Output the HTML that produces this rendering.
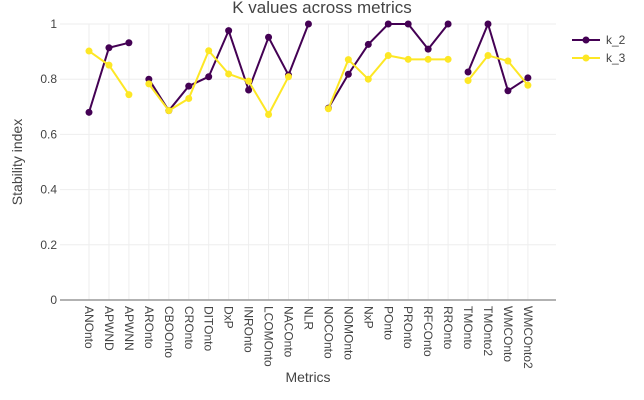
<!DOCTYPE html>
<html><head><meta charset="utf-8"><style>
body{margin:0;background:#fff;}
svg{font-family:"Liberation Sans",sans-serif;display:block;}
</style></head><body>
<svg id="chart" width="644" height="400">
<text x="322" y="13" text-anchor="middle" font-size="17" fill="#444">K values across metrics</text>
<g id="grid"></g><g id="axes"></g><g id="series"></g>
<text transform="translate(22,162) rotate(-90)" text-anchor="middle" font-size="14" fill="#444">Stability index</text>
<text x="308" y="382" text-anchor="middle" font-size="14" fill="#444">Metrics</text>
<g>
<g><line x1="572" y1="40" x2="600" y2="40" stroke="#440154" stroke-width="2"/><circle cx="586" cy="40" r="3.5" fill="#440154"/><text x="606" y="44" font-size="12" fill="#444">k_2</text></g>
<g><line x1="572" y1="58" x2="600" y2="58" stroke="#fde725" stroke-width="2"/><circle cx="586" cy="58" r="3.5" fill="#fde725"/><text x="606" y="62" font-size="12" fill="#444">k_3</text></g>
</g>
</svg>
<script>
const categories=["ANOnto","APWND","APWNN","AROnto","CBOOnto","CROnto","DITOnto","DxP","INROnto","LCOMOnto","NACOnto","NLR","NOCOnto","NOMOnto","NxP","POnto","PROnto","RFCOnto","RROnto","TMOnto","TMOnto2","WMCOnto","WMCOnto2"];
const k2=[0.68,0.914,0.932,0.80,0.686,0.775,0.809,0.976,0.761,0.952,0.815,1.0,0.695,0.818,0.926,1.0,1.0,0.909,1.0,0.826,1.0,0.758,0.805];
const k3=[0.902,0.851,0.744,0.783,0.686,0.730,0.903,0.819,0.793,0.672,0.809,null,0.693,0.871,0.80,0.886,0.872,0.872,0.872,0.795,0.886,0.866,0.778];
const breaksAfter=[2,11,18];
const yTicks=[0,0.2,0.4,0.6,0.8,1];
const yTickLabels=["0","0.2","0.4","0.6","0.8","1"];
const NS="http://www.w3.org/2000/svg";
function X(i){return 89+i*19.95;}
function Y(v){return 300-v*276;}
function mk(t,a,p){const e=document.createElementNS(NS,t);for(const k in a)e.setAttribute(k,a[k]);p.appendChild(e);return e;}
const grid=document.getElementById('grid'),axes=document.getElementById('axes'),ser=document.getElementById('series');
categories.forEach((c,i)=>{
 const g=mk('line',{x1:X(i),x2:X(i),y1:24,y2:300,stroke:'#eee','stroke-width':1},grid);
 
 
 const t=mk('text',{transform:`translate(${X(i)-4},306) rotate(90)`,'font-size':12,fill:'#444'},axes);
 t.textContent=c;
 
 
});
yTicks.forEach((v,i)=>{
 if(v>0){const g=mk('line',{x1:60,x2:556,y1:Y(v),y2:Y(v),stroke:'#eee','stroke-width':1},grid);
 
 }
 const t=mk('text',{x:57,y:Y(v)+4,'text-anchor':'end','font-size':12,fill:'#444'},axes);
 t.textContent=yTickLabels[i];
 
 
});
const ax=mk('line',{x1:60,x2:556,y1:300,y2:300,stroke:'#999','stroke-width':1.5},axes);


function draw(vals,color,name){
 const g=mk('g',{},ser);
 
 
 let d='',pen=false;
 vals.forEach((v,i)=>{
  if(v===null){pen=false;return;}
  d+=(pen?'L':'M')+X(i)+' '+Y(v)+' ';pen=true;
  if(breaksAfter.includes(i))pen=false;
 });
 const p=mk('path',{d:d,fill:'none',stroke:color,'stroke-width':2},g);
 
 
 vals.forEach((v,i)=>{if(v===null)return;
  const c=mk('circle',{cx:X(i),cy:Y(v),r:3.5,fill:color},g);
  
  
 });
}
draw(k2,'#440154','series-k2');
draw(k3,'#fde725','series-k3');
</script>
</body></html>
